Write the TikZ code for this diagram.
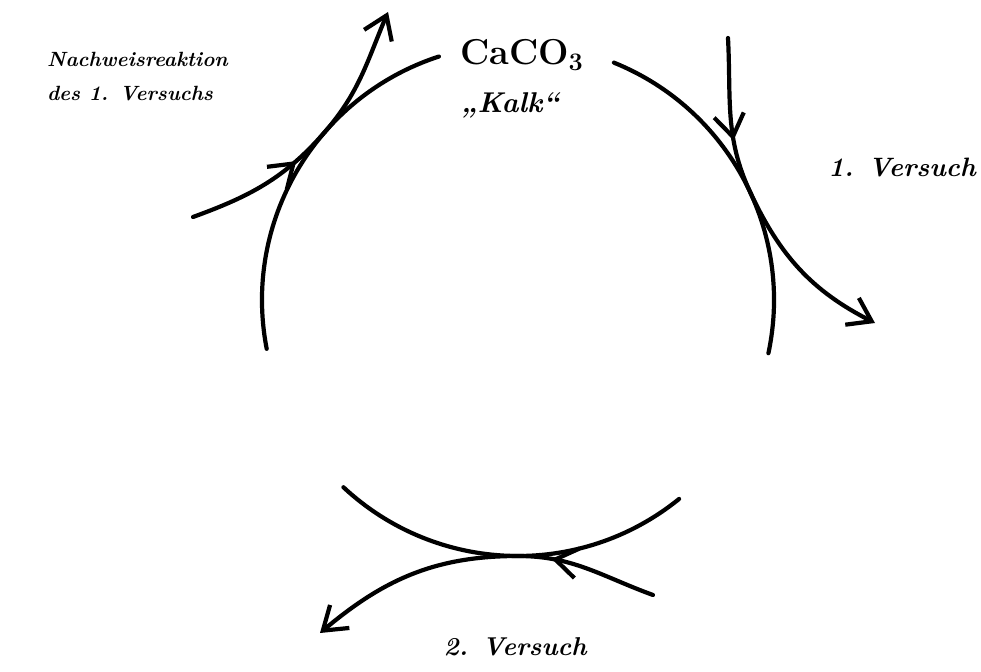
\documentclass[tikz,border=0pt]{standalone}
\usepackage{fontspec}
\usepackage{tikz}
\usetikzlibrary{arrows.meta}
\usetikzlibrary{decorations.markings}
\tikzset{
	kreis/.style={line width=2.1pt, line cap=round},
	pfeil/.style={line width=2.1pt, line cap=round, -{Straight Barb[length=11pt,width=15pt]}},
	mitte/.style={postaction={decorate}, decoration={markings, mark=at position #1 with {\arrow{Straight Barb[length=11pt,width=15pt]}}}},
	schrift/.style={font=\fontsize{13}{16}\selectfont\bfseries\itshape},
}

\begin{document}
\begin{tikzpicture}[x=0.5pt,y=0.5pt]
			\useasboundingbox (0,0) rectangle (981,671);
			\def\rad{256};
			\coordinate (ctr) at (518,371);
			\begin{scope}[kreis]
				\draw (ctr) ++(108:\rad) arc (108:191:\rad);
				\draw (ctr) ++(68:\rad) arc (68:-12:\rad);
				\draw (ctr) ++(227:\rad) arc (227:309:\rad);
			\end{scope}
			\path (ctr) ++(139:\rad) coordinate (nw);
			\path (ctr) ++(25:\rad) coordinate (ost);
			\path (ctr) ++(270:\rad) coordinate (sued);
			\draw[pfeil, mitte=0.4] (193,454) to[out=20,in=229] (nw) to[out=49,in=247] (388,659);
			\draw[pfeil, mitte=0.3] (728,633) to[out=-87,in=115] (ost) to[out=-65,in=153] (875,348);
			\draw[pfeil, mitte=0.3] (653,76) to[out=160,in=0] (sued) to[out=180,in=40] (320,38);
			\node[schrift, font=\fontsize{10.3}{17}\selectfont\bfseries\itshape, align=left, anchor=west] (nachweis) at (40,594) {Nachweisreaktion\\des 1. Versuchs};
			\node[font=\fontsize{18}{22}\selectfont\bfseries] (caco) at (522,616) {CaCO\textsubscript{3}};
			\node[schrift, font=\fontsize{14.3}{18}\selectfont\bfseries\itshape] (kalk) at (510,566) {„Kalk“};
			\node[schrift, font=\fontsize{13.3}{16}\selectfont\bfseries\itshape] (versuch1) at (902,504) {1. Versuch};
			\node[schrift, font=\fontsize{12.9}{16}\selectfont\bfseries\itshape] (versuch2) at (515,24) {2. Versuch};
\end{tikzpicture}
\end{document}
